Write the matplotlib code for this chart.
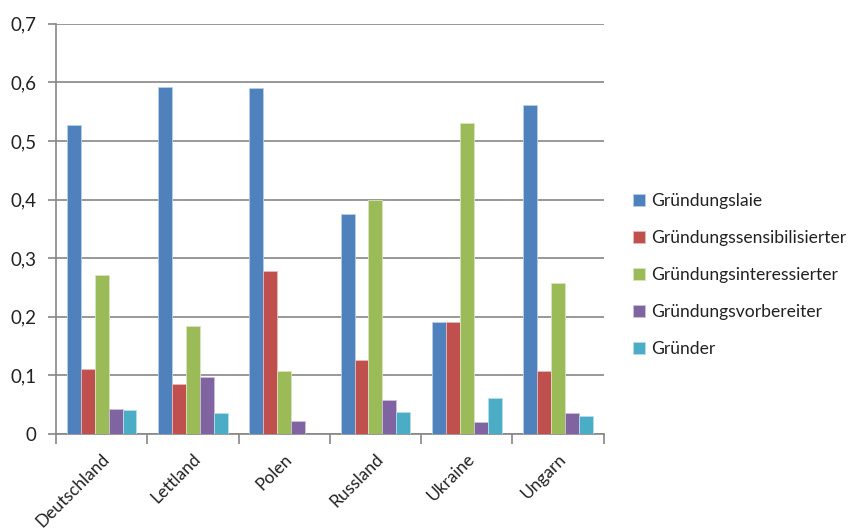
import matplotlib.pyplot as plt
import numpy as np

plt.rcParams['font.family'] = ['Lato', 'DejaVu Sans']

countries = ['Deutschland', 'Lettland', 'Polen', 'Russland', 'Ukraine', 'Ungarn']
series_names = ['Gründungslaie', 'Gründungssensibilisierter', 'Gründungsinteressierter',
                'Gründungsvorbereiter', 'Gründer']
laie = [0.527, 0.593, 0.590, 0.376, 0.191, 0.562]
sensibilisiert = [0.111, 0.085, 0.278, 0.126, 0.191, 0.108]
interessiert = [0.272, 0.185, 0.107, 0.399, 0.531, 0.258]
vorbereiter = [0.043, 0.097, 0.022, 0.058, 0.020, 0.036]
gruender = [0.041, 0.036, 0.0, 0.037, 0.062, 0.030]
y_ticks = [0, 0.1, 0.2, 0.3, 0.4, 0.5, 0.6, 0.7]

colors = ['#4F81BD', '#C0504D', '#9BBB59', '#8064A2', '#4BACC6']
edges = ['#b9cde5', '#e6b9b8', '#d7e4bd', '#ccc1da', '#b7dee8']
values = [laie, sensibilisiert, interessiert, vorbereiter, gruender]

fig = plt.figure(figsize=(8.6, 5.3), dpi=100)
ax = fig.add_axes([0.065, 0.181, 0.637, 0.774])

x = np.arange(len(countries))
w = 0.153
for i, (vals, name) in enumerate(zip(values, series_names)):
    ax.bar(x + (i - 2) * w, vals, w, color=colors[i], edgecolor=edges[i],
           linewidth=0.6, label=name, zorder=3)

ax.set_xlim(-0.5, len(countries) - 0.5)
ax.set_ylim(0, 0.7)
ax.set_yticks(y_ticks)
ax.set_yticklabels([('%.1f' % v).replace('.', ',') if v else '0' for v in y_ticks])
ax.yaxis.grid(True, color='#868686', linewidth=1.2, zorder=0)

ax.set_xticks(x)
ax.set_xticklabels(countries, rotation=45, ha='right', rotation_mode='anchor')
ax.set_xticks(np.arange(len(countries) + 1) - 0.5, minor=True)
ax.tick_params(axis='x', which='major', length=0, pad=12)
ax.tick_params(axis='x', which='minor', length=7, color='#868686', width=1.2)
ax.tick_params(axis='y', length=6, color='#868686', width=1.2, pad=8)
ax.tick_params(labelsize=13.5, labelcolor='#222222')
ax.tick_params(axis='x', labelsize=12.5)

for s in ['top', 'right']:
    ax.spines[s].set_visible(False)
for s in ['left', 'bottom']:
    ax.spines[s].set_color('#868686')
    ax.spines[s].set_linewidth(1.2)

ax.legend(loc='center left', bbox_to_anchor=(1.025, 0.388), frameon=False,
          fontsize=12.6, handlelength=0.7, handleheight=0.7, handletextpad=0.3,
          labelspacing=1.2, labelcolor='#222222')

plt.savefig('out.png', dpi=100)
